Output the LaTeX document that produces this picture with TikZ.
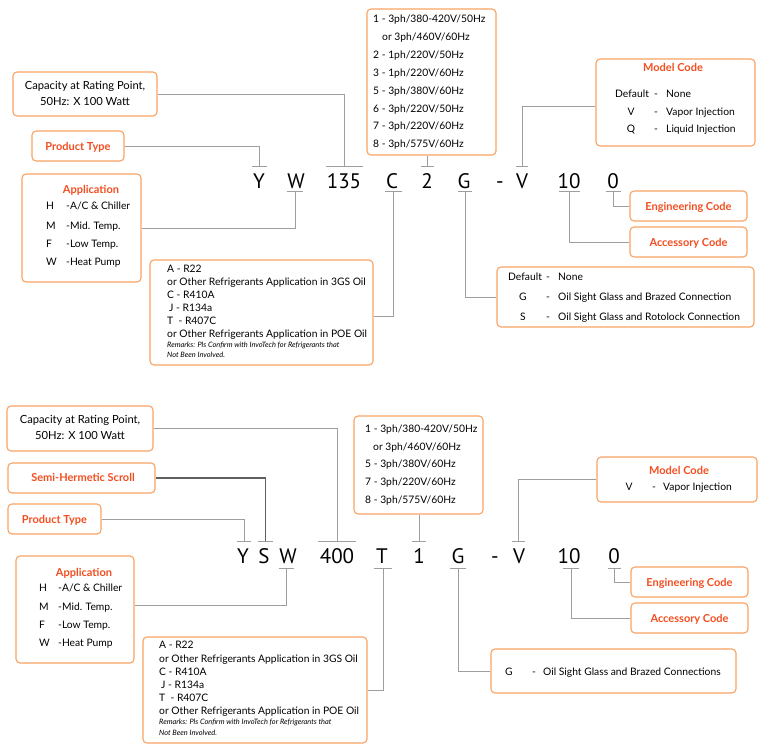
\documentclass[tikz,border=0pt]{standalone}
\usepackage{fontspec}
\setmainfont{Lato}
\newfontfamily\codefont{PT Sans}
\definecolor{boxor}{RGB}{248,163,100}
\definecolor{titor}{RGB}{243,78,32}
\definecolor{lngray}{RGB}{158,158,158}
\definecolor{lndark}{RGB}{95,95,95}
\newcommand\drawcodebar[4]{\coordinate (#1) at (#2,#3); \draw[bar] ([xshift=-#4pt]#1) -- ([xshift=#4pt]#1);}
\begin{document}
\begin{tikzpicture}[x=1pt,y=-1pt,
  box/.style={draw=boxor, line width=1.1pt, rounded corners=4pt, fill=white, inner sep=0pt},
  ttl/.style={font=\bfseries\fontsize{11}{13}\selectfont, text=titor, inner sep=0pt, anchor=base},
  txt/.style={font=\fontsize{10.3}{12}\selectfont, inner sep=0pt, anchor=base west},
  ctxt/.style={font=\fontsize{10.3}{12}\selectfont, inner sep=0pt, anchor=base},
  captxt/.style={font=\fontsize{11.2}{13}\selectfont, inner sep=0pt, anchor=base},
  rem/.style={font=\itshape\fontsize{7.4}{8}\selectfont, inner sep=0pt, anchor=base west},
  code/.style={font=\codefont\fontsize{21}{24}\selectfont, inner sep=0pt, anchor=base},
  conn/.style={draw=lngray, line width=0.8pt},
  darkconn/.style={draw=lndark, line width=1.1pt},
  bar/.style={draw=lngray, line width=0.8pt},
]
\useasboundingbox (0,0) rectangle (770,750);

% ================= TOP =================
\node[box, minimum width=144pt, minimum height=44pt] (capT) at (85,94) {};
\node[box, minimum width=92pt, minimum height=30pt] (ptT) at (78,146) {};
\node[box, minimum width=119pt, minimum height=108pt] (appT) at (81.5,228) {};
\node[box, minimum width=129pt, minimum height=146pt] (pwrT) at (431.5,82) {};
\node[box, minimum width=159pt, minimum height=87pt] (modT) at (675.5,102.5) {};
\node[box, minimum width=117pt, minimum height=30pt] (engT) at (688.5,206) {};
\node[box, minimum width=117pt, minimum height=30pt] (accT) at (688.5,242) {};
\node[box, minimum width=257pt, minimum height=60pt] (gT) at (625.5,297) {};
\node[box, minimum width=223pt, minimum height=105pt] (refT) at (261.5,312.5) {};

\node[captxt] (capT1) at (85,89) {Capacity at Rating Point,};
\node[captxt] (capT2) at (85,105) {50Hz: X 100 Watt};
\node[ttl] (ptTt) at (78,150) {Product Type};
\node[ttl] (appTt) at (91,193) {Application};
\node[txt] (appTa) at (46,209.5) {H};
\node[txt] (appTb) at (66,209.5) {-A/C \& Chiller};
\node[txt] (appTc) at (46,229) {M};
\node[txt] (appTd) at (66,229) {-Mid. Temp.};
\node[txt] (appTe) at (46,247) {F};
\node[txt] (appTf) at (66,247) {-Low Temp.};
\node[txt] (appTg) at (46,265.5) {W};
\node[txt] (appTh) at (66,265.5) {-Heat Pump};

\node[txt] (pwT1) at (373,22.5) {1 - 3ph/380-420V/50Hz};
\node[txt] (pwT2) at (382,40.4) {or 3ph/460V/60Hz};
\node[txt] (pwT3) at (373,58.3) {2 - 1ph/220V/50Hz};
\node[txt] (pwT4) at (373,76.2) {3 - 1ph/220V/60Hz};
\node[txt] (pwT5) at (373,94.1) {5 - 3ph/380V/60Hz};
\node[txt] (pwT6) at (373,112.0) {6 - 3ph/220V/50Hz};
\node[txt] (pwT7) at (373,129.9) {7 - 3ph/220V/60Hz};
\node[txt] (pwT8) at (373,147.8) {8 - 3ph/575V/60Hz};

\node[ttl] (modTt) at (673,71) {Model Code};
\node[txt] (modTa) at (615,97.5) {Default};
\node[ctxt] (modTb) at (656,97.5) {-};
\node[txt] (modTc) at (666,97.5) {None};
\node[ctxt] (modTd) at (631,115.5) {V};
\node[ctxt] (modTe) at (656,115.5) {-};
\node[txt] (modTf) at (666,115.5) {Vapor Injection};
\node[ctxt] (modTg) at (631,132.5) {Q};
\node[ctxt] (modTh) at (656,132.5) {-};
\node[txt] (modTi) at (666,132.5) {Liquid Injection};

\node[ttl] (engTt) at (688.5,210) {Engineering Code};
\node[ttl] (accTt) at (688.5,246) {Accessory Code};

\node[txt] (gTa) at (508,280.5) {Default};
\node[ctxt] (gTb) at (548,280.5) {-};
\node[txt] (gTc) at (558,280.5) {None};
\node[ctxt] (gTd) at (523,300.5) {G};
\node[ctxt] (gTe) at (548,300.5) {-};
\node[txt] (gTf) at (558,300.5) {Oil Sight Glass and Brazed Connection};
\node[ctxt] (gTg) at (523,320.5) {S};
\node[ctxt] (gTh) at (548,320.5) {-};
\node[txt] (gTi) at (558,320.5) {Oil Sight Glass and Rotolock Connection};

\node[txt] (rfT1) at (167,272.5) {A - R22};
\node[txt] (rfT2) at (167,285.5) {or Other Refrigerants Application in 3GS Oil};
\node[txt] (rfT3) at (167,298.5) {C - R410A};
\node[txt] (rfT4) at (169,311.5) {J - R134a};
\node[txt] (rfT5) at (167,324.5) {T\ \ - R407C};
\node[txt] (rfT6) at (167,337.5) {or Other Refrigerants Application in POE Oil};
\node[rem] (rfT7) at (167,347.8) {Remarks: Pls Confirm with InvoTech for Refrigerants that};
\node[rem] (rfT8) at (167,357) {Not Been Involved.};

\node[code] (tY) at (259,188) {Y};
\node[code] (tW) at (296,188) {W};
\node[code] (t135) at (344,188) {135};
\node[code] (tC) at (392,188) {C};
\node[code] (t2) at (427,188) {2};
\node[code] (tG) at (464,188) {G};
\node[code] (tdash) at (500,188) {-};
\node[code] (tV) at (522,188) {V};
\node[code] (t10) at (569,188) {10};
\node[code] (t0) at (613,188) {0};

\drawcodebar{bTY}{259.5}{166}{7.5}
\drawcodebar{bT135}{344.5}{166}{18.5}
\drawcodebar{bT2}{427.5}{166}{6.5}
\drawcodebar{bTV}{522}{166}{6}
\drawcodebar{bTW}{295}{191}{8}
\drawcodebar{bTC}{393.5}{191}{8.5}
\drawcodebar{bTG}{465}{191}{7}
\drawcodebar{bT10}{569.5}{191}{10.5}
\drawcodebar{bT0}{613.5}{191}{7.5}

\draw[conn] (capT.east) -| (bT135);
\draw[conn] (ptT.east) -| (bTY);
\draw[conn] (appT.east) -| (bTW);
\draw[conn] (pwrT.south -| bT2) -- (bT2);
\draw[conn] (bTV) |- ([yshift=-3.5pt]modT.west);
\draw[conn] (bT0) |- (engT.west);
\draw[conn] (bT10) |- (accT.west);
\draw[conn] (bTG) |- (gT.west);
\draw[conn] (bTC) |- ([yshift=-3.5pt]refT.east);

% ================= BOTTOM =================
\node[box, minimum width=146pt, minimum height=45pt] (capB) at (80,428.5) {};
\node[box, minimum width=147pt, minimum height=30pt] (shsB) at (81.5,478) {};
\node[box, minimum width=93pt, minimum height=30pt] (ptB) at (54.5,519) {};
\node[box, minimum width=118pt, minimum height=107pt] (appB) at (75,609.5) {};
\node[box, minimum width=129pt, minimum height=98pt] (pwrB) at (418.5,465) {};
\node[box, minimum width=160pt, minimum height=45pt] (modB) at (677,479.5) {};
\node[box, minimum width=117pt, minimum height=30pt] (engB) at (689.5,582) {};
\node[box, minimum width=117pt, minimum height=30pt] (accB) at (689.5,618) {};
\node[box, minimum width=245pt, minimum height=44pt] (gB) at (613.5,671) {};
\node[box, minimum width=224pt, minimum height=106pt] (refB) at (255,690) {};

\node[captxt] (capB1) at (80,423) {Capacity at Rating Point,};
\node[captxt] (capB2) at (80,439) {50Hz: X 100 Watt};
\node[ttl] (shsBt) at (83,481) {Semi-Hermetic Scroll};
\node[ttl] (ptBt) at (54.5,523) {Product Type};
\node[ttl] (appBt) at (84,576) {Application};
\node[txt] (appBa) at (39,591.5) {H};
\node[txt] (appBb) at (58,591.5) {-A/C \& Chiller};
\node[txt] (appBc) at (39,610.5) {M};
\node[txt] (appBd) at (58,610.5) {-Mid. Temp.};
\node[txt] (appBe) at (39,628.5) {F};
\node[txt] (appBf) at (58,628.5) {-Low Temp.};
\node[txt] (appBg) at (39,646.5) {W};
\node[txt] (appBh) at (58,646.5) {-Heat Pump};

\node[txt] (pwB1) at (365,432.5) {1 - 3ph/380-420V/50Hz};
\node[txt] (pwB2) at (373,450.2) {or 3ph/460V/60Hz};
\node[txt] (pwB3) at (365,467.9) {5 - 3ph/380V/60Hz};
\node[txt] (pwB4) at (365,485.6) {7 - 3ph/220V/60Hz};
\node[txt] (pwB5) at (365,503.3) {8 - 3ph/575V/60Hz};

\node[ttl] (modBt) at (679,474) {Model Code};
\node[ctxt] (modBa) at (629,490.5) {V};
\node[ctxt] (modBb) at (654,490.5) {-};
\node[txt] (modBc) at (663,490.5) {Vapor Injection};

\node[ttl] (engBt) at (689.5,586) {Engineering Code};
\node[ttl] (accBt) at (689.5,622) {Accessory Code};

\node[ctxt] (gBa) at (509,675) {G};
\node[ctxt] (gBb) at (534,675) {-};
\node[txt] (gBc) at (543,675) {Oil Sight Glass and Brazed Connections};

\node[txt] (rfB1) at (159,648.5) {A - R22};
\node[txt] (rfB2) at (159,662) {or Other Refrigerants Application in 3GS Oil};
\node[txt] (rfB3) at (159,675.5) {C - R410A};
\node[txt] (rfB4) at (161,688) {J - R134a};
\node[txt] (rfB5) at (159,701.5) {T\ \ - R407C};
\node[txt] (rfB6) at (159,714.5) {or Other Refrigerants Application in POE Oil};
\node[rem] (rfB7) at (159,724) {Remarks: Pls Confirm with InvoTech for Refrigerants that};
\node[rem] (rfB8) at (159,735) {Not Been Involved.};

\node[code] (bY) at (243,563) {Y};
\node[code] (bS) at (264,563) {S};
\node[code] (bW) at (288,563) {W};
\node[code] (b400) at (337,563) {400};
\node[code] (bT) at (382,563) {T};
\node[code] (b1) at (419,563) {1};
\node[code] (bG) at (458,563) {G};
\node[code] (bdash) at (495,563) {-};
\node[code] (bV) at (519,563) {V};
\node[code] (b10) at (569,563) {10};
\node[code] (b0) at (614,563) {0};

\drawcodebar{bBY}{244}{541}{7}
\drawcodebar{bBS}{265.5}{541}{7.5}
\drawcodebar{bB400}{337}{541}{19}
\drawcodebar{bB1}{419}{541}{7}
\drawcodebar{bBV}{518.5}{541}{6.5}
\drawcodebar{bBW}{286.5}{568}{7.5}
\drawcodebar{bBT}{383}{568}{9}
\drawcodebar{bBG}{458}{568}{8}
\drawcodebar{bB10}{571}{568}{8}
\drawcodebar{bB0}{614.5}{568}{6.5}

\draw[conn] (capB.east) -| (bB400);
\draw[darkconn] (shsB.east) -| (bBS);
\draw[conn] (ptB.east) -| (bBY);
\draw[conn] ([yshift=4.5pt]appB.east) -| (bBW);
\draw[conn] (pwrB.south -| bB1) -- (bB1);
\draw[conn] (bBV) |- (modB.west);
\draw[conn] (bB0) |- (engB.west);
\draw[conn] (bB10) |- (accB.west);
\draw[conn] (bBG) |- (gB.west);
\draw[conn] (bBT) |- (refB.east);
\end{tikzpicture}
\end{document}
